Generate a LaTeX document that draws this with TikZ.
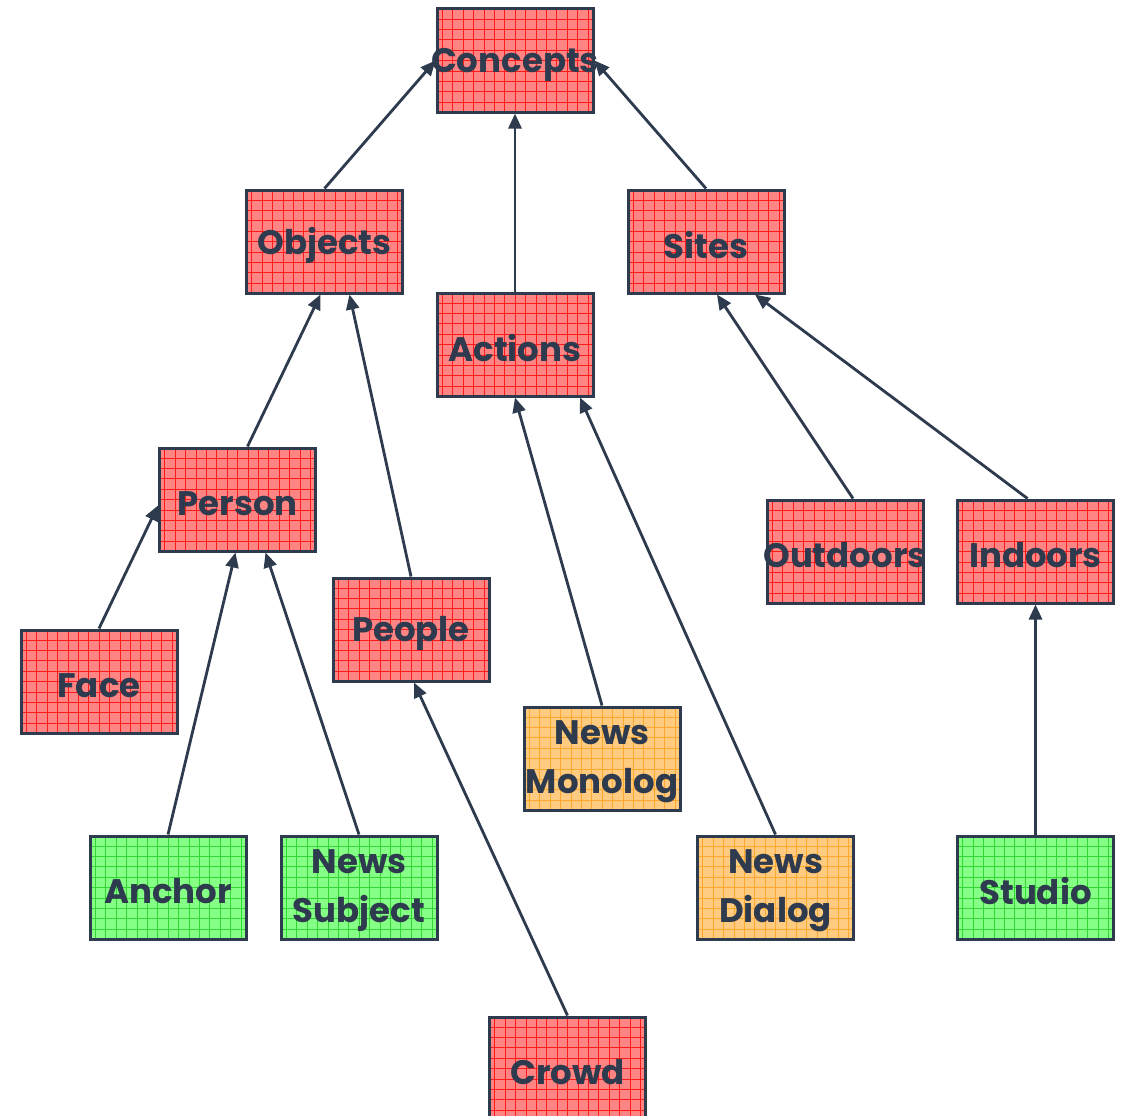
\documentclass[tikz,border=0pt]{standalone}
\usepackage{fontspec}
\setmainfont{Poppins}
\usetikzlibrary{arrows.meta}
\definecolor{ink}{HTML}{2E3A4D}
\definecolor{boxred}{HTML}{FF8585}
\definecolor{gridred}{HTML}{FF1A1A}
\definecolor{boxorange}{HTML}{FFCB80}
\definecolor{gridorange}{HTML}{FFA82E}
\definecolor{boxgreen}{HTML}{85FF85}
\definecolor{gridgreen}{HTML}{33D633}
\newcommand\mklbl[1]{\makebox[0pt]{#1}}
\tikzset{
  box/.style={draw=ink, line width=3pt, minimum width=156pt, minimum height=103pt,
    inner sep=0pt, align=center, text=ink,
    font=\bfseries\fontsize{34}{49}\selectfont},
  redbox/.style={box, fill=boxred, path picture={
    \draw[gridred, line width=0.6pt]
      (path picture bounding box.south west) grid[step=10.4pt] (path picture bounding box.north east);}},
  orangebox/.style={box, fill=boxorange, path picture={
    \draw[gridorange, line width=0.6pt]
      (path picture bounding box.south west) grid[step=10.4pt] (path picture bounding box.north east);}},
  greenbox/.style={box, fill=boxgreen, path picture={
    \draw[gridgreen, line width=0.6pt]
      (path picture bounding box.south west) grid[step=10.4pt] (path picture bounding box.north east);}},
  lbl/.style={inner sep=0pt, align=center, text=ink,
    font=\bfseries\fontsize{34}{49}\selectfont},
  edge/.style={draw=ink, line width=2.8pt, -{Triangle[length=15pt,width=13pt]}}
}
\begin{document}
\begin{tikzpicture}[x=1pt,y=-1pt]
\clip (0,0) rectangle (1122,1116);
\fill[white] (0,0) rectangle (1122,1116);
\node[redbox] (concepts) at (515,60.5) {};
\node[redbox] (objects) at (324.5,241.5) {};
\node[redbox] (sites) at (706,241.5) {};
\node[redbox] (actions) at (515,344.5) {};
\node[redbox] (person) at (237.5,499.5) {};
\node[redbox] (people) at (411,629.5) {};
\node[redbox] (face) at (99,681.5) {};
\node[redbox] (outdoors) at (845,551.5) {};
\node[redbox] (indoors) at (1035.5,551.5) {};
\node[orangebox] (monolog) at (602,758.5) {};
\node[greenbox] (anchor) at (168,887.5) {};
\node[greenbox] (subject) at (359,887.5) {};
\node[orangebox] (dialog) at (775.5,887.5) {};
\node[greenbox] (studio) at (1035.5,887.5) {};
\node[redbox] (crowd) at (567.5,1068.5) {};
\node[lbl] (concepts-t) at ([yshift=-4pt]concepts.center) {\mklbl{Concepts}};
\node[lbl] (objects-t) at ([yshift=-4pt]objects.center) {\mklbl{Objects}};
\node[lbl] (sites-t) at ([yshift=-4pt]sites.center) {\mklbl{Sites}};
\node[lbl] (actions-t) at ([yshift=-4pt]actions.center) {\mklbl{Actions}};
\node[lbl] (person-t) at ([yshift=-4pt]person.center) {\mklbl{Person}};
\node[lbl] (people-t) at ([yshift=-4pt]people.center) {\mklbl{People}};
\node[lbl] (face-t) at ([yshift=-4pt]face.center) {\mklbl{Face}};
\node[lbl] (outdoors-t) at ([yshift=-4pt]outdoors.center) {\mklbl{Outdoors}};
\node[lbl] (indoors-t) at ([yshift=-4pt]indoors.center) {\mklbl{Indoors}};
\node[lbl] (monolog-t) at ([yshift=-3pt]monolog.center) {\mklbl{News}\\\mklbl{Monolog}};
\node[lbl] (anchor-t) at ([yshift=-4pt]anchor.center) {\mklbl{Anchor}};
\node[lbl] (subject-t) at ([yshift=-3pt]subject.center) {\mklbl{News}\\\mklbl{Subject}};
\node[lbl] (dialog-t) at ([yshift=-3pt]dialog.center) {\mklbl{News}\\\mklbl{Dialog}};
\node[lbl] (studio-t) at ([yshift=-4pt]studio.center) {\mklbl{Studio}};
\node[lbl] (crowd-t) at ([yshift=-4pt]crowd.center) {\mklbl{Crowd}};
\draw[edge] (objects.north) -- (concepts.west);
\draw[edge] (actions.north) -- (concepts.south);
\draw[edge] (sites.north) -- (concepts.east);
\draw[edge] ([xshift=10pt]person.north) -- ([xshift=-4pt]objects.south);
\draw[edge] (people.north) -- ([xshift=25pt]objects.south);
\draw[edge] (face.north) -- ([yshift=-6pt]person.west);
\draw[edge] (anchor.north) -- ([xshift=-2pt]person.south);
\draw[edge] (subject.north) -- ([xshift=28pt]person.south);
\draw[edge] (crowd.north) -- ([xshift=3pt]people.south);
\draw[edge] (monolog.north) -- (actions.south);
\draw[edge] (dialog.north) -- ([xshift=65pt]actions.south);
\draw[edge] ([xshift=8pt]outdoors.north) -- ([xshift=11pt]sites.south);
\draw[edge] ([xshift=-8pt]indoors.north) -- ([xshift=49pt]sites.south);
\draw[edge] (studio.north) -- (indoors.south);
\end{tikzpicture}
\end{document}
